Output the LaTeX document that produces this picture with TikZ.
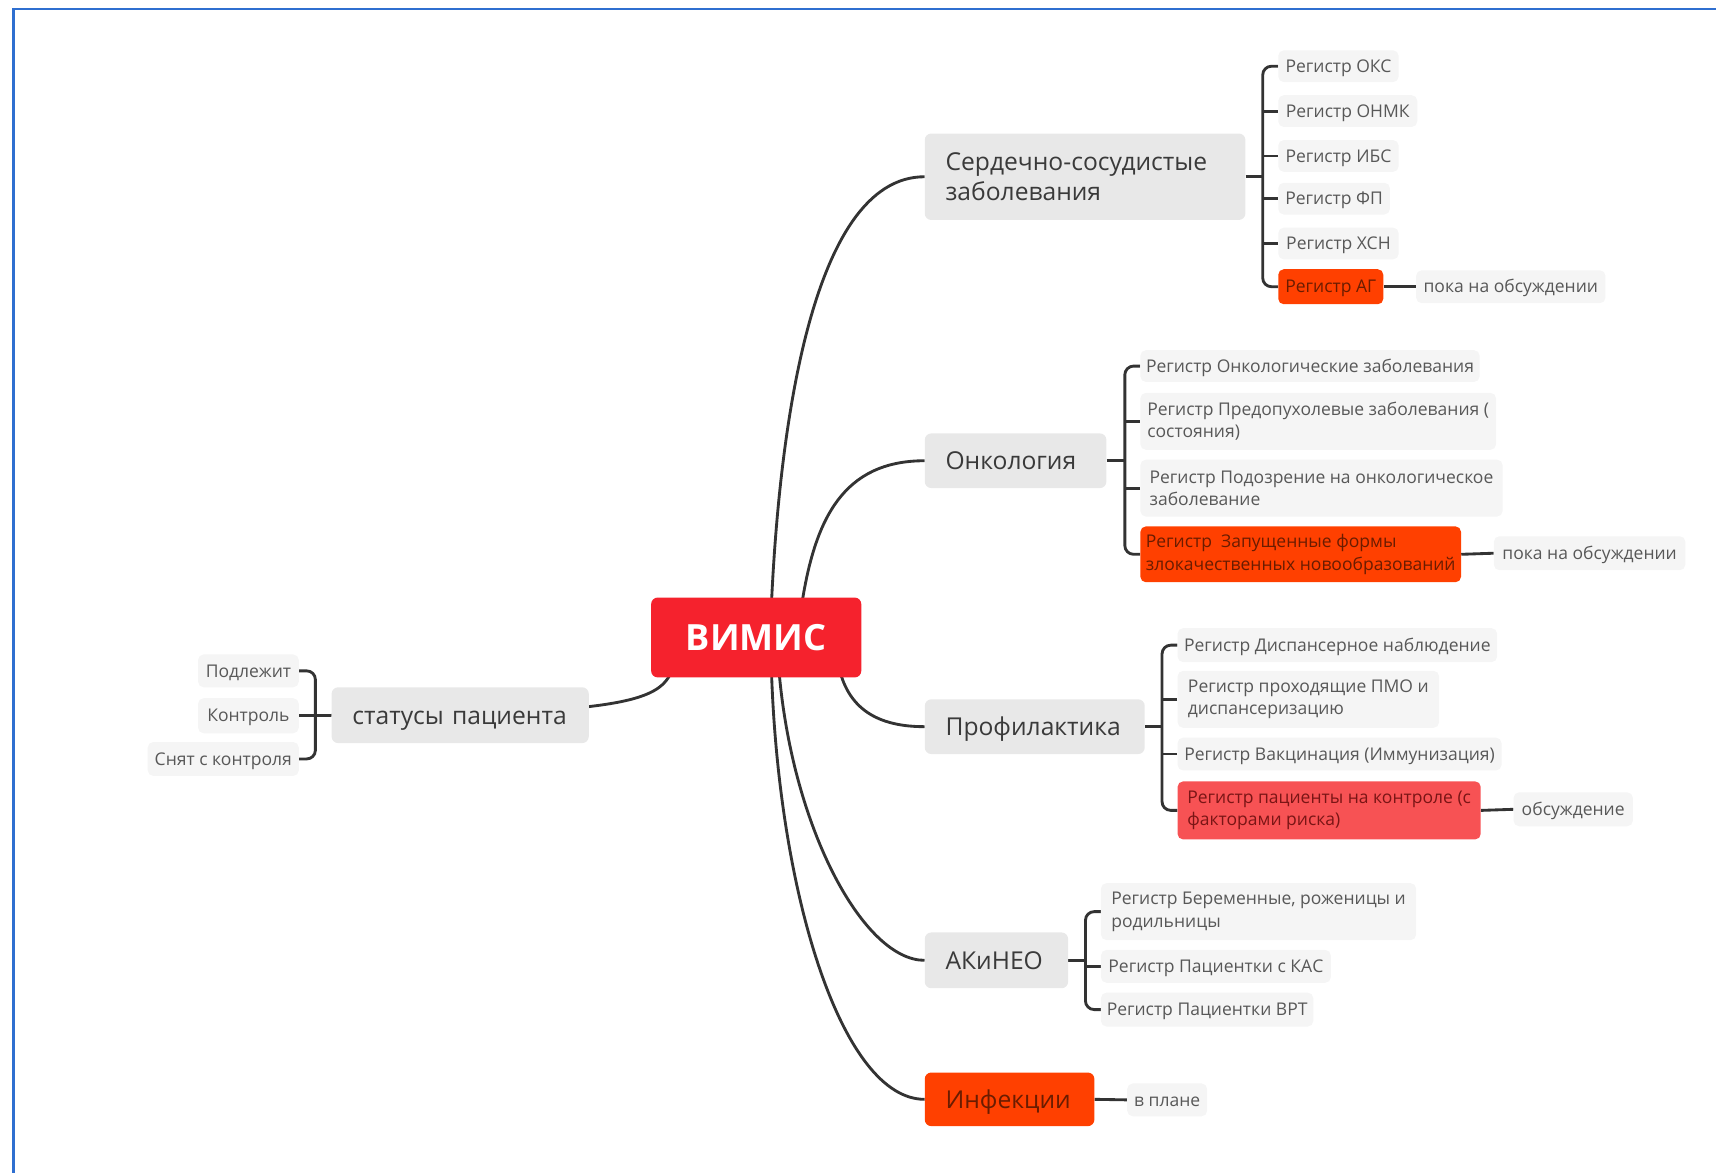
\documentclass[tikz,border=0pt]{standalone}
\usepackage{fontspec}
\setmainfont{Open Sans}
\usetikzlibrary{calc}
\pgfdeclarelayer{bg}
\pgfsetlayers{bg,main}
\definecolor{rootred}{HTML}{F5222D}
\definecolor{maingray}{HTML}{E8E8E8}
\definecolor{subgray}{HTML}{F5F5F5}
\definecolor{maintext}{HTML}{3A3A3A}
\definecolor{subtext}{HTML}{585858}
\definecolor{hot}{HTML}{FF4000}
\definecolor{hottext}{HTML}{6A1C00}
\definecolor{warm}{HTML}{F75254}
\definecolor{warmtext}{HTML}{7A1515}
\definecolor{linec}{HTML}{333333}
\definecolor{frameblue}{HTML}{2F6FD0}
\tikzset{
  base/.style={inner sep=0pt, rounded corners=5pt, align=left},
  rootbox/.style={base, fill=rootred, text=white, font=\fontsize{33}{38}\selectfont\bfseries, rounded corners=6pt, text height=24pt, text depth=0pt},
  mainbox/.style={base, fill=maingray, text=maintext, font=\fontsize{22.5}{27}\selectfont, rounded corners=6pt},
  mainone/.style={mainbox, text height=20pt, text depth=3.9pt},
  mainhot/.style={mainone, fill=hot, text=hottext},
  subbox/.style={base, fill=subgray, text=subtext, font=\fontsize{16}{20.5}\selectfont},
  subone/.style={subbox, text height=14.2pt, text depth=2.8pt},
  hotone/.style={subone, fill=hot, text=hottext},
  hotbox/.style={subbox, fill=hot, text=hottext},
  warmbox/.style={subbox, fill=warm, text=warmtext},
  conn/.style={draw=linec, line width=2.6pt},
  brk/.style={conn, rounded corners=8pt},
  wh/.style 2 args={minimum width=#1pt, minimum height=#2pt},
}
\begin{document}
\begin{tikzpicture}[x=1pt, y=-1pt]
\useasboundingbox (0,0) rectangle (1568,1070.93);
\draw[frameblue, line width=2pt] (12.3,1072) -- (12.3,8.5) -- (1570,8.5);

% root and main topics
\node[rootbox, wh={192}{73}] (root) at (691,582.5) {ВИМИС};
\node[mainone, wh={235}{51}, text width=197pt] (stat) at (420.5,653.5) {статусы пациента};
\node[mainbox, wh={293}{79}, text width=255pt] (M1) at (991.5,161.5) {Сердечно-сосудистые\\заболевания};
\node[mainone, wh={166}{50}, text width=128pt] (M2) at (928,421) {Онкология};
\node[mainone, wh={201}{50}, text width=163pt] (M3) at (945.5,664) {Профилактика};
\node[mainone, wh={131}{51}, text width=93pt] (M4) at (910.5,877.5) {АКиНЕО};
\node[mainhot, wh={155}{49}, text width=117pt] (M5) at (922.5,1004.5) {Инфекции};

% statuses
\node[subone, wh={92}{30}] (st1) at (227,613) {Подлежит};
\node[subone, wh={92}{32}] (st2) at (227,654) {Контроль};
\node[subone, wh={138}{31}] (st3) at (204,693.5) {Снят с контроля};

% cardio
\node[subone, wh={110}{29}] (s1) at (1223,60.5) {Регистр ОКС};
\node[subone, wh={127}{29}] (s2) at (1231.5,101.5) {Регистр ОНМК};
\node[subone, wh={110}{29}] (s3) at (1223,142.5) {Регистр ИБС};
\node[subone, wh={102}{29}] (s4) at (1219,181.5) {Регистр ФП};
\node[subone, wh={110}{29}] (s5) at (1223,222.5) {Регистр ХСН};
\node[hotone, wh={96}{32}] (s6) at (1216,262) {Регистр АГ};
\node[subone, wh={173}{30}] (s6n) at (1380.5,262) {пока на обсуждении};

% oncology
\node[subone, wh={310}{29}] (o1) at (1197,334.5) {Регистр Онкологические заболевания};
\node[subbox, wh={325}{52}] (o2) at (1204.5,385) {Регистр Предопухолевые заболевания (\\состояния)};
\node[subbox, wh={331}{52}] (o3) at (1207.5,446) {Регистр Подозрение на онкологическое\\заболевание};
\node[hotbox, wh={293}{51}] (o4) at (1188.5,506.5) {Регистр\ \ Запущенные формы\\злокачественных новообразований};
\node[subone, wh={175}{31}] (o4n) at (1452.5,505.5) {пока на обсуждении};

% prophylaxis
\node[subone, wh={292}{31}] (p1) at (1222,589.5) {Регистр Диспансерное наблюдение};
\node[subbox, wh={239}{52}] (p2) at (1195.5,639) {Регистр проходящие ПМО и\\диспансеризацию};
\node[subone, wh={296}{30}] (p3) at (1224,689) {Регистр Вакцинация (Иммунизация)};
\node[warmbox, wh={277}{53}] (p4) at (1214.5,740.5) {Регистр пациенты на контроле (с\\факторами риска)};
\node[subone, wh={109}{31}] (p4n) at (1437.5,739.5) {обсуждение};

% akineo
\node[subbox, wh={288}{52}] (a1) at (1150,833) {Регистр Беременные, роженицы и\\родильницы};
\node[subone, wh={210}{30}] (a2) at (1111,883) {Регистр Пациентки с КАС};
\node[subone, wh={194}{31}] (a3) at (1103,922.5) {Регистр Пациентки ВРТ};

% infections
\node[subone, wh={73}{30}] (i1) at (1066.5,1005) {в плане};

\begin{pgfonlayer}{bg}
% curves from root
\draw[conn] ($(root.north)+(14,4)$) .. controls (712,400) and (740,161.5) .. (M1.west);
\draw[conn] ($(root.north)+(42,4)$) .. controls (745,475) and (770,421) .. (M2.west);
\draw[conn] ($(root.south)+(77,-4)$) .. controls (778,650) and (805,664) .. (M3.west);
\draw[conn] ($(root.south)+(21,-4)$) .. controls (725,760) and (790,877.5) .. (M4.west);
\draw[conn] ($(root.south)+(14,-4)$) .. controls (712,820) and (770,1004.5) .. (M5.west);
\draw[conn] ($(root.south)+(-78,-4)$) .. controls (600,640) and (570,653.5) .. (stat.west);

% statuses bracket
\coordinate (k0) at ($(stat.west -| st1.east)+(15,0)$);
\draw[brk] (st1.east) -| (k0) |- (st3.east);
\draw[conn] (st2.east) -- (st2.east -| k0);
\draw[conn] (stat.west) -- (k0);

% cardio bracket
\coordinate (k1) at ($(M1.east -| s1.west)+(-14,0)$);
\draw[brk] (s1.west) -| (k1) |- (s6.west);
\foreach \n in {s2,s3,s4,s5} \draw[conn] (\n.west) -- (\n.west -| k1);
\draw[conn] (M1.east) -- (k1);
\draw[conn] (s6.east) -- (s6n.west);

% oncology bracket
\coordinate (k2) at ($(M2.east -| o1.west)+(-14,0)$);
\draw[brk] (o1.west) -| (k2) |- (o4.west);
\foreach \n in {o2,o3} \draw[conn] (\n.west) -- (\n.west -| k2);
\draw[conn] (M2.east) -- (k2);
\draw[conn] (o4.east) -- (o4n.west);

% prophylaxis bracket
\coordinate (k3) at ($(M3.east -| p1.west)+(-14,0)$);
\draw[brk] (p1.west) -| (k3) |- (p4.west);
\foreach \n in {p2,p3} \draw[conn] (\n.west) -- (\n.west -| k3);
\draw[conn] (M3.east) -- (k3);
\draw[conn] (p4.east) -- (p4n.west);

% akineo bracket
\coordinate (k4) at ($(M4.east -| a1.west)+(-14,0)$);
\draw[brk] (a1.west) -| (k4) |- (a3.west);
\draw[conn] (a2.west) -- (a2.west -| k4);
\draw[conn] (M4.east) -- (k4);

% infections
\draw[conn] (M5.east) -- (i1.west);
\end{pgfonlayer}
\end{tikzpicture}
\end{document}
